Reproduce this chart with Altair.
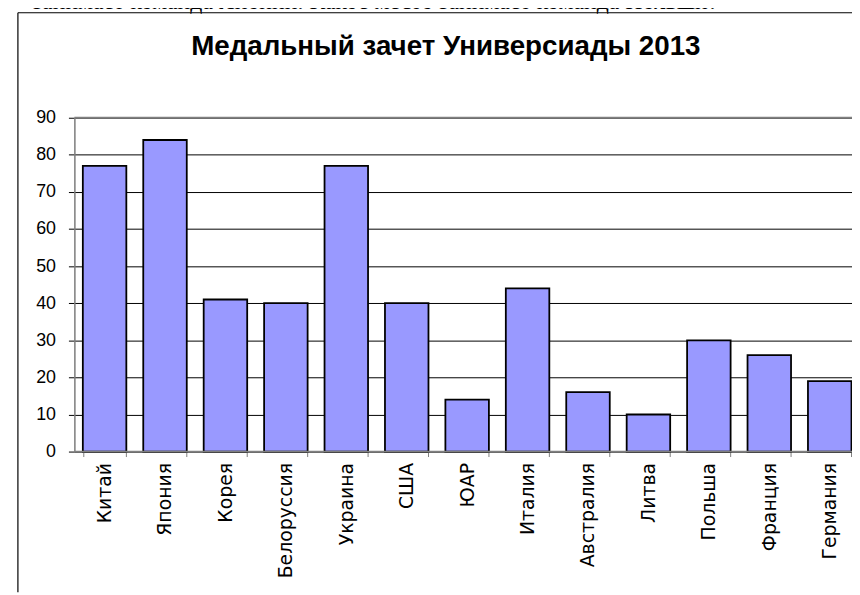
import altair as alt
import pandas as pd

countries = ["Китай", "Япония", "Корея", "Белоруссия", "Украина", "США", "ЮАР",
             "Италия", "Австралия", "Литва", "Польша", "Франция", "Германия"]
medals = [77, 84, 41, 40, 77, 40, 14, 44, 16, 10, 30, 26, 19]
title_text = "Медальный зачет Универсиады 2013"
top_text = "занимает команда Японии. Какое место занимает команда Польши?"

df = pd.DataFrame({"country": countries, "medals": medals})

W = 785
H = 337
FONT = "Liberation Sans"

x = alt.X("country:N", sort=countries, title=None,
          scale=alt.Scale(range=[0, 793], paddingInner=0.28, paddingOuter=0.14),
          axis=alt.Axis(labelAngle=-90, labelAlign="right", labelBaseline="middle",
                        labelFont="DejaVu Sans", labelFontSize=19, labelColor="black",
                        labelPadding=6, tickBand="extent", tickColor="#808080",
                        tickSize=5, domain=False, grid=False))
y = alt.Y("medals:Q", title=None,
          scale=alt.Scale(domain=[0, 90], nice=False),
          axis=alt.Axis(values=list(range(0, 91, 10)), labelFont=FONT, labelFontSize=18,
                        labelColor="black", labelPadding=13, tickSize=6,
                        tickColor="black", domainColor="#808080", domainWidth=1.5,
                        gridColor="black", gridWidth=1))

bars = alt.Chart(df).mark_bar(color="#9999FF", stroke="black", strokeWidth=1.8).encode(x=x, y=y)

frame = alt.Chart(pd.DataFrame({"v": [0]})).mark_rule(color="black", strokeWidth=1.2)
left_border = frame.encode(x=alt.value(-57), y=alt.value(-106), y2=alt.value(479))
top_border = frame.encode(x=alt.value(-57), x2=alt.value(W), y=alt.value(-106))
plot_top = alt.Chart(pd.DataFrame({"v": [0]})).mark_rule(color="#808080", strokeWidth=2).encode(
    x=alt.value(0), x2=alt.value(W), y=alt.value(0))
baseline = alt.Chart(pd.DataFrame({"v": [0]})).mark_rule(color="#808080", strokeWidth=1.5).encode(
    x=alt.value(0), x2=alt.value(W), y=alt.value(H))

title = alt.Chart(pd.DataFrame({"t": [title_text]})).mark_text(
    font=FONT, fontSize=28, fontWeight="bold", color="black", align="center", baseline="alphabetic"
).encode(text="t:N", x=alt.value(450 - 75), y=alt.value(53 - 116))

top_line = alt.Chart(pd.DataFrame({"t": [top_text]})).mark_text(
    font="Liberation Serif", fontSize=24, color="black", align="right", baseline="alphabetic"
).encode(text="t:N", x=alt.value(725 - 75), y=alt.value(6 - 116))

chart = alt.layer(bars, plot_top, baseline, left_border, top_border, title, top_line).properties(
    width=W, height=H,
    autosize=alt.AutoSizeParams(type="none"),
    padding={"left": 67, "top": 108, "right": 0, "bottom": 142},
).configure_view(stroke=None).configure(background="white")

chart.save("out.html", embed_options={"renderer": "svg", "actions": False})
